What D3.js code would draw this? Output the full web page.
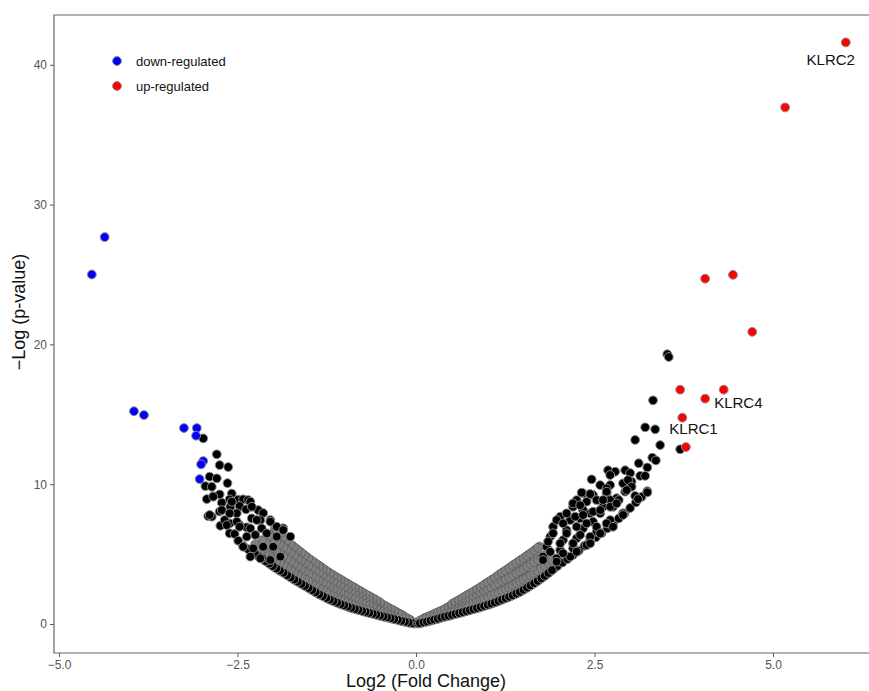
<!DOCTYPE html>
<html>
<head>
<meta charset="utf-8">
<script src="https://cdn.jsdelivr.net/npm/d3@7"></script>
<style>
  body { margin: 0; background: #fff; }
  text { font-family: "Liberation Sans", Arial, sans-serif; }
</style>
</head>
<body>
<svg id="plot" width="869" height="691"></svg>
<script>
// ---- data (log2 fold change, -log p-value) ----
var downGenes = [[-4.54,25.0],[-4.36,27.68],[-3.95,15.22],[-3.81,14.95],[-3.25,14.02],
  [-3.07,14.02],[-3.08,13.47],[-2.98,11.66],[-3.01,11.42],[-3.03,10.37]];

var upGenes = [[6.02,41.6],[5.17,36.95],[4.05,24.7],[4.44,24.98],[4.71,20.9],
  [3.7,16.76],[4.31,16.76],[4.05,16.12],[3.73,14.76],[3.78,12.66]];

var labelGenes = ["KLRC2","KLRC4","KLRC1"];
var labelValues = [[6.02,41.6],[4.05,16.12],[3.73,14.76]];

// dense band, one column per x: [x, [y, y, ...]]
var bandLeft = [
  [-0.03,[0.04,0.12]],[-0.08,[0.08,0.18,0.3]],[-0.13,[0.14,0.28,0.42]],
  [-0.18,[0.2,0.35,0.5,0.6]],[-0.23,[0.26,0.42,0.58,0.74]],[-0.28,[0.33,0.5,0.68,0.88]],
  [-0.33,[0.38,0.58,0.8,1.02]],[-0.38,[0.45,0.66,0.9,1.15]],[-0.43,[0.5,0.74,1.0,1.3]],
  [-0.48,[0.57,0.82,1.1,1.42]],[-0.53,[0.64,0.9,1.2,1.5,1.62]],[-0.58,[0.7,0.98,1.3,1.6,1.78]],
  [-0.63,[0.77,1.05,1.4,1.7,1.92]],[-0.68,[0.84,1.15,1.5,1.82,2.06]],[-0.73,[0.9,1.22,1.6,1.95,2.2]],
  [-0.78,[0.98,1.3,1.7,2.05,2.36]],[-0.83,[1.05,1.4,1.8,2.2,2.5]],[-0.88,[1.12,1.48,1.9,2.3,2.65]],
  [-0.93,[1.2,1.58,2.0,2.45,2.8]],[-0.98,[1.3,1.7,2.1,2.55,2.95]],[-1.03,[1.38,1.8,2.25,2.7,3.1]],
  [-1.08,[1.48,1.9,2.35,2.85,3.25]],[-1.13,[1.58,2.0,2.5,3.0,3.4]],[-1.18,[1.7,2.15,2.6,3.1,3.55]],
  [-1.23,[1.8,2.25,2.75,3.25,3.72]],[-1.28,[1.95,2.4,2.9,3.4,3.9]],[-1.33,[2.07,2.55,3.05,3.6,4.08]],
  [-1.38,[2.2,2.7,3.2,3.75,4.25]],[-1.43,[2.36,2.85,3.35,3.9,4.42]],[-1.48,[2.5,3.0,3.5,4.05,4.6]],
  [-1.53,[2.66,3.15,3.7,4.25,4.8]],[-1.58,[2.8,3.3,3.85,4.45,5.0]],[-1.63,[2.96,3.45,4.0,4.6,5.2]],
  [-1.68,[3.1,3.6,4.2,4.8,5.4]],[-1.73,[3.26,3.8,4.4,5.0,5.6]],[-1.78,[3.42,3.95,4.55,5.2,5.85]],
  [-1.83,[3.6,4.1,4.75,5.4,6.1]],[-1.88,[3.75,4.3,4.95,5.6,6.35]],[-1.93,[3.9,4.45,5.1,5.8,6.55]],
  [-1.98,[4.06,4.6,5.3,6.0,6.8]],[-2.03,[4.24,4.8,5.5,6.2]],[-2.08,[4.42,5.0,5.7]],
  [-2.13,[4.6,5.2,5.9]],[-2.18,[4.78,5.4]],[-2.23,[4.95,5.6]],[-2.28,[5.1]],[-2.35,[5.35]],[-2.42,[5.6]]
];

// second pass of the band, between the columns above
var bandLeftMid = [
  [-0.055,[0.06,0.15]],[-0.105,[0.11,0.24,0.36]],[-0.155,[0.17,0.32,0.48]],[-0.205,[0.23,0.4,0.55,0.68]],
  [-0.255,[0.3,0.47,0.64,0.8]],[-0.305,[0.36,0.55,0.75,0.95]],[-0.355,[0.42,0.62,0.85,1.08]],
  [-0.405,[0.48,0.7,0.95,1.22]],[-0.455,[0.54,0.78,1.05,1.36]],[-0.505,[0.6,0.86,1.15,1.46,1.56]],
  [-0.555,[0.67,0.94,1.25,1.55,1.7]],[-0.605,[0.74,1.02,1.35,1.65,1.85]],[-0.655,[0.8,1.1,1.45,1.76,2.0]],
  [-0.705,[0.87,1.18,1.55,1.88,2.13]],[-0.755,[0.94,1.26,1.65,2.0,2.28]],[-0.805,[1.01,1.35,1.75,2.12,2.43]],
  [-0.855,[1.08,1.44,1.85,2.25,2.58]],[-0.905,[1.16,1.53,1.95,2.38,2.72]],[-0.955,[1.25,1.64,2.05,2.5,2.88]],
  [-1.005,[1.34,1.75,2.18,2.62,3.02]],[-1.055,[1.43,1.85,2.3,2.78,3.18]],[-1.105,[1.53,1.95,2.42,2.92,3.32]],
  [-1.155,[1.64,2.08,2.55,3.05,3.48]],[-1.205,[1.75,2.2,2.68,3.18,3.64]],[-1.255,[1.87,2.32,2.82,3.32,3.8]],
  [-1.305,[2.0,2.48,2.98,3.5,3.98]],[-1.355,[2.13,2.62,3.12,3.68,4.16]],[-1.405,[2.28,2.78,3.28,3.82,4.34]],
  [-1.455,[2.43,2.92,3.42,3.98,4.52]],[-1.505,[2.58,3.08,3.6,4.15,4.7]],[-1.555,[2.73,3.22,3.78,4.35,4.9]],
  [-1.605,[2.88,3.38,3.92,4.52,5.1]],[-1.655,[3.03,3.52,4.1,4.7,5.3]],[-1.705,[3.18,3.7,4.3,4.9,5.5]],
  [-1.755,[3.34,3.88,4.48,5.1,5.72]],[-1.805,[3.5,4.02,4.65,5.3,5.98]],[-1.855,[3.67,4.2,4.85,5.5,6.22]],
  [-1.905,[3.82,4.38,5.02,5.7,6.45]],[-1.955,[3.98,4.52,5.2,5.9,6.68]],[-2.005,[4.15,4.7,5.4,6.1]],
  [-2.055,[4.33,4.9,5.6,6.3]],[-2.105,[4.5,5.1,5.8]],[-2.155,[4.7,5.3,6.0]],[-2.205,[4.86,5.5]],
  [-2.255,[5.02,5.7]]
];

var bandRight = [
  [0.03,[0.04,0.12]],[0.08,[0.09,0.2,0.3]],[0.13,[0.15,0.3,0.45]],[0.18,[0.22,0.38,0.55]],
  [0.23,[0.28,0.45,0.65]],[0.28,[0.35,0.55,0.78]],[0.33,[0.42,0.65,0.9]],[0.38,[0.5,0.75,1.0]],
  [0.43,[0.56,0.82,1.15]],[0.48,[0.62,0.9,1.3]],[0.53,[0.7,1.0,1.4,1.5]],[0.58,[0.76,1.1,1.45,1.65]],
  [0.63,[0.82,1.2,1.55,1.8]],[0.68,[0.9,1.3,1.7,1.95]],[0.73,[0.97,1.4,1.8,2.1]],[0.78,[1.04,1.5,1.95,2.25]],
  [0.83,[1.1,1.6,2.05,2.4]],[0.88,[1.18,1.7,2.2,2.55]],[0.93,[1.26,1.8,2.3,2.72]],[0.98,[1.34,1.9,2.45,2.9]],
  [1.03,[1.42,2.0,2.55,3.05]],[1.08,[1.5,2.1,2.7,3.22]],[1.13,[1.6,2.2,2.85,3.4]],[1.18,[1.7,2.3,3.0,3.58]],
  [1.23,[1.8,2.45,3.1,3.75]],[1.28,[1.9,2.55,3.25,3.92]],[1.33,[2.0,2.7,3.4,4.1]],[1.38,[2.12,2.85,3.55,4.28]],
  [1.43,[2.24,3.0,3.7,4.45]],[1.48,[2.38,3.12,3.85,4.62]],[1.53,[2.52,3.25,4.0,4.8]],[1.58,[2.68,3.4,4.2,4.98]],
  [1.63,[2.84,3.55,4.35,5.15]],[1.68,[3.0,3.7,4.5,5.35]],[1.73,[3.18,3.9,4.7,5.55]],[1.78,[3.36,4.05,4.9]],
  [1.83,[3.55,4.25]],[1.88,[3.75,4.45]],[1.93,[3.95]],[1.98,[4.15]],[2.05,[4.4]],[2.12,[4.65]],
  [2.2,[4.95]],[2.28,[5.25]],[2.36,[5.6]],[2.44,[5.9]],[2.52,[6.2]],[2.6,[6.5]],[2.68,[6.85]],
  [2.76,[7.2]],[2.84,[7.55]],[2.92,[7.9]],[3.0,[8.3]],[3.08,[8.7]],[3.16,[9.1]],[3.24,[9.5]]
];

var bandRightMid = [
  [0.055,[0.06,0.16,0.25]],[0.105,[0.12,0.25,0.38]],[0.155,[0.18,0.34,0.5]],[0.205,[0.25,0.42,0.6]],
  [0.255,[0.32,0.5,0.72]],[0.305,[0.38,0.6,0.84]],[0.355,[0.46,0.7,0.95]],[0.405,[0.53,0.78,1.08]],
  [0.455,[0.59,0.86,1.22]],[0.505,[0.66,0.95,1.35,1.45]],[0.555,[0.73,1.05,1.42,1.58]],
  [0.605,[0.79,1.15,1.5,1.72]],[0.655,[0.86,1.25,1.62,1.88]],[0.705,[0.93,1.35,1.75,2.02]],
  [0.755,[1.0,1.45,1.88,2.18]],[0.805,[1.07,1.55,2.0,2.32]],[0.855,[1.14,1.65,2.12,2.48]],
  [0.905,[1.22,1.75,2.25,2.64]],[0.955,[1.3,1.85,2.38,2.8]],[1.005,[1.38,1.95,2.5,2.98]],
  [1.055,[1.46,2.05,2.62,3.14]],[1.105,[1.55,2.15,2.78,3.3]],[1.155,[1.65,2.25,2.92,3.5]],
  [1.205,[1.75,2.38,3.05,3.66]],[1.255,[1.85,2.5,3.18,3.84]],[1.305,[1.95,2.62,3.32,4.0]],
  [1.355,[2.06,2.78,3.48,4.2]],[1.405,[2.18,2.92,3.62,4.36]],[1.455,[2.3,3.06,3.78,4.54]],
  [1.505,[2.45,3.18,3.92,4.7]],[1.555,[2.6,3.32,4.1,4.88]],[1.605,[2.76,3.48,4.28,5.06]],
  [1.655,[2.92,3.62,4.42,5.25]],[1.705,[3.09,3.8,4.6,5.45]],[1.755,[3.27,3.98,4.8]],
  [1.805,[3.45,4.15,4.95]],[1.855,[3.65,4.35]],[1.905,[3.85,4.55]]
];

// sparser genes above the band
var scatterLeft = [[-2.98,13.28],[-2.79,12.14],[-2.75,11.37],[-2.63,11.23],[-2.89,10.54],[-2.79,10.42],
  [-2.64,10.08],[-2.95,9.87],[-2.86,9.82],[-2.84,9.14],[-2.93,8.94],[-2.75,9.27],[-2.58,9.33],[-2.72,8.68],
  [-2.61,8.92],[-2.49,8.9],[-2.42,8.92],[-2.35,8.87],[-2.32,8.75],[-2.21,8.15],[-2.14,7.94],[-2.6,8.39],
  [-2.47,8.44],[-2.75,8.05],[-2.51,7.92],[-2.38,8.2],[-2.91,7.72],[-2.86,7.68],[-2.74,7.03],[-2.61,7.2],
  [-2.47,7.08],[-2.37,6.92],[-2.61,6.49],[-2.54,6.44],[-2.49,5.96],[-2.3,7.56],[-2.18,7.44],[-2.04,7.44],
  [-1.86,6.85],[-1.76,6.25],[-2.68,7.44],[-2.51,7.32],[-2.23,7.44],[-2.04,7.32],[-1.95,6.96],[-2.65,7.08],
  [-2.32,6.84],[-2.16,6.84],[-1.86,6.72],[-2.37,6.25],[-2.25,6.37],[-2.09,6.49],[-1.95,6.25],[-2.42,5.53],
  [-2.28,5.41],[-2.14,5.53],[-2.0,5.53],[-2.32,4.82],[-2.18,4.7],[-2.04,4.58],[-1.9,4.82],[-2.3,8.39],
  [-2.72,8.15],[-2.61,7.92],[-2.89,7.8],[-2.47,6.96],[-2.58,8.75],[-2.84,9.11]];

var scatterRight = [[3.52,19.3],[3.54,19.1],[3.32,16.0],[3.21,14.07],[3.35,13.93],[3.07,13.17],[3.42,12.8],
  [3.7,12.5],[3.31,11.9],[3.36,11.7],[3.12,11.5],[3.24,11.2],[2.46,10.35],[2.69,11.0],[2.79,10.9],[2.93,11.0],
  [3.0,10.8],[3.14,10.6],[3.21,10.6],[2.58,9.94],[2.72,9.94],[2.9,10.06],[3.02,10.18],[2.34,9.35],[2.48,9.23],
  [2.67,9.35],[2.81,9.0],[3.07,9.16],[3.24,9.42],[3.11,8.94],[2.93,9.47],[2.72,10.66],[2.97,10.3],[2.67,9.7],
  [3.02,9.82],[2.95,9.58],[2.25,8.87],[2.39,8.75],[2.53,8.87],[2.72,8.87],[2.84,8.87],[2.62,8.39],[2.76,8.39],
  [2.9,7.92],[2.2,8.39],[2.34,8.15],[2.44,7.92],[2.58,7.92],[2.02,7.68],[2.16,7.44],[2.3,7.56],[2.48,7.32],
  [2.72,7.44],[1.92,6.96],[2.11,6.72],[2.34,6.84],[2.53,6.6],[1.88,6.25],[2.06,6.01],[2.25,6.13],[2.44,6.01],
  [1.83,5.53],[2.02,5.29],[2.2,5.41],[1.78,4.82],[1.97,4.7],[2.16,4.82],[2.32,9.4],[2.44,9.3],[2.62,8.87],
  [2.67,9.47],[2.2,8.63],[2.3,8.5],[2.11,7.92],[2.23,7.68],[2.34,7.8],[2.48,8.04],[2.58,8.15],[2.72,8.39],
  [2.81,8.63],[2.9,7.8],[1.97,7.44],[2.06,7.2],[2.25,6.96],[2.39,7.2],[2.53,6.96],[2.67,7.2],[2.76,6.96],
  [1.92,6.49],[2.11,6.49],[2.3,6.37],[2.44,6.25],[2.58,6.49],[1.85,5.9],[2.02,5.77],[2.2,5.77],[2.39,5.65],
  [1.88,5.17],[2.06,5.06],[2.25,5.17],[2.44,5.77],[1.78,4.58],[1.97,4.46]];

var xTicks = [-5, -2.5, 0, 2.5, 5];
var yTicks = [0, 10, 20, 30, 40];
var legendLabels = ["down-regulated", "up-regulated"];
var legendColors = ["#0000ff", "#ff0000"];

// ---- drawing ----
var svg = d3.select('#plot');
var panelLeft = 54, panelRight = 869, panelTop = 15, panelBottom = 653;

var x = d3.scaleLinear().domain([-5.07, 6.345]).range([panelLeft, panelRight]);
var y = d3.scaleLinear().domain([-2.07, 43.56]).range([panelBottom, panelTop]);

// split each band column into its lowest gene (outer edge) and the rest (packed interior)
var bandEdge = [], bandInner = [];
[bandLeft, bandLeftMid, bandRight, bandRightMid].forEach(function(band) {
  band.forEach(function(col) {
    col[1].forEach(function(v, i) {
      (i === 0 ? bandEdge : bandInner).push([col[0], v]);
    });
  });
});

var grey = '#8a8a8a';

function addPoints(data, fill, stroke, sw) {
  svg.append('g').selectAll('circle')
    .data(data)
    .enter().append('circle')
    .attr('cx', function(d) { return x(d[0]); })
    .attr('cy', function(d) { return y(d[1]); })
    .attr('r', 4.4)
    .style('fill', fill)
    .style('stroke', stroke)
    .style('stroke-width', sw);
}

// packed points blur into grey in the original rendering
addPoints(bandInner, '#808080', '#4a4a4a', 0.5);
addPoints(bandEdge, 'black', grey, 1);
addPoints(scatterLeft.concat(scatterRight), 'black', grey, 1);
addPoints(downGenes, legendColors[0], grey, 1);
addPoints(upGenes, legendColors[1], grey, 1);

// gene labels
var labelOffsets = [[-15, 23, 'middle'], [9, 9, 'start'], [-13, 16, 'start']];
svg.append('g').selectAll('text')
  .data(labelGenes)
  .enter().append('text')
  .attr('x', function(d, i) { return x(labelValues[i][0]) + labelOffsets[i][0]; })
  .attr('y', function(d, i) { return y(labelValues[i][1]) + labelOffsets[i][1]; })
  .attr('text-anchor', function(d, i) { return labelOffsets[i][2]; })
  .style('font-size', '15px')
  .style('fill', '#111')
  .text(function(d) { return d; });

// axes
var xAxis = svg.append('g')
  .attr('transform', 'translate(0,' + panelBottom + ')')
  .call(d3.axisBottom(x).tickValues(xTicks).tickFormat(d3.format('.1f')).tickSize(4).tickSizeOuter(0));
var yAxis = svg.append('g')
  .attr('transform', 'translate(' + panelLeft + ',0)')
  .call(d3.axisLeft(y).tickValues(yTicks).tickSize(4).tickSizeOuter(0));

[xAxis, yAxis].forEach(function(a) {
  a.select('.domain').remove();
  a.selectAll('line').style('stroke', '#555');
  a.selectAll('text').style('fill', '#555').style('font-size', '12px')
    .style('font-family', '"Liberation Sans", Arial, sans-serif');
});
xAxis.selectAll('text').attr('dy', '0.75em');

// panel border (left, top, bottom)
svg.append('path')
  .attr('d', 'M' + (panelRight + 1) + ',' + panelTop + 'H' + panelLeft + 'V' + panelBottom + 'H' + (panelRight + 1))
  .style('fill', 'none')
  .style('stroke', '#666')
  .style('stroke-width', 1.2);

// axis titles
svg.append('text')
  .attr('x', 426).attr('y', 687)
  .attr('text-anchor', 'middle')
  .style('font-size', '18px')
  .style('fill', '#111')
  .text('Log2 (Fold Change)');

svg.append('text')
  .attr('transform', 'translate(25,312) rotate(-90)')
  .attr('text-anchor', 'middle')
  .style('font-size', '18px')
  .style('fill', '#111')
  .text('\u2212Log (p-value)');

// legend
var legend = svg.append('g').selectAll('g')
  .data(legendLabels)
  .enter().append('g')
  .attr('transform', function(d, i) { return 'translate(117,' + (61 + i * 25) + ')'; });
legend.append('circle')
  .attr('r', 4.4)
  .style('fill', function(d, i) { return legendColors[i]; })
  .style('stroke', grey)
  .style('stroke-width', 1);
legend.append('text')
  .attr('x', 19).attr('y', 5)
  .style('font-size', '13px')
  .style('fill', '#111')
  .text(function(d) { return d; });
</script>
</body>
</html>
